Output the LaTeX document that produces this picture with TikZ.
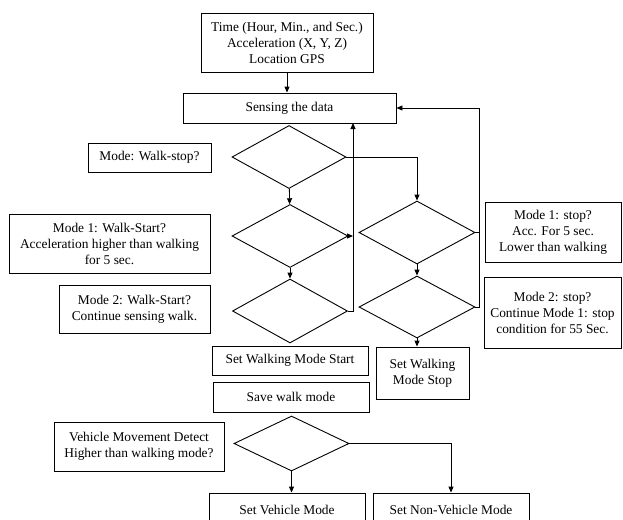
\documentclass[tikz,border=0pt]{standalone}
\usepackage{fontspec}
\setmainfont{Liberation Serif}
\usepackage{tikz}
\usetikzlibrary{positioning,arrows.meta,shapes.geometric}

\begin{document}
\begin{tikzpicture}[x=1pt, y=-1pt, line width=0.9pt,
  every node/.style={font=\fontsize{13.4}{16}\selectfont},
  box/.style={draw, rectangle, align=center, inner sep=0pt},
  dec/.style={draw, diamond, inner sep=0pt},
  arr/.style={-{Triangle[length=6pt,width=5pt]}}]
  %----- page frame -----
  \useasboundingbox (0,0) rectangle (623,519);

  %----- input and sensing -----
  \node[box, minimum width=172, minimum height=59] (input) at (287,42.5)
    {Time (Hour, Min., and Sec.)\\Acceleration (X, Y, Z)\\Location GPS};
  \node[box, minimum width=213, minimum height=30] (sense) at (289.5,108) {Sensing the data};

  %----- walk start column -----
  \node[dec, minimum width=114, minimum height=63] (walkstop) at (289,157) {};
  \node[dec, minimum width=116, minimum height=63] (start1) at (290,236) {};
  \node[dec, minimum width=115, minimum height=64] (start2) at (290,311) {};
  \node[box, minimum width=123, minimum height=29] (qstop) at (149.5,157.5) {Mode: Walk-stop?};
  \node[box, minimum width=201, minimum height=59] (qstart1) at (109.5,243.5)
    {Mode 1: Walk-Start?\\Acceleration higher than walking\\for 5 sec.};
  \node[box, minimum width=151, minimum height=48] (qstart2) at (134.5,309)
    {Mode 2: Walk-Start?\\Continue sensing walk.};
  \node[box, minimum width=156, minimum height=29] (setstart) at (290,360.5) {Set Walking Mode Start};
  \node[box, minimum width=156, minimum height=30] (save) at (291,397) {Save walk mode};

  %----- walk stop column -----
  \node[dec, minimum width=116, minimum height=63] (stop1) at (417,232.5) {};
  \node[dec, minimum width=116, minimum height=62] (stop2) at (417,307) {};
  \node[box, minimum width=136, minimum height=60] (qstop1) at (553,232)
    {Mode 1: stop?\\Acc. For 5 sec.\\Lower than walking};
  \node[box, minimum width=137, minimum height=71] (qstop2) at (552.5,312.5)
    {Mode 2: stop?\\Continue Mode 1: stop\\condition for 55 Sec.};
  \node[box, minimum width=93, minimum height=52] (setstop) at (422.5,373) {Set Walking\\Mode Stop};

  %----- vehicle detection -----
  \node[dec, minimum width=115, minimum height=55] (vehicle) at (291.5,443.5) {};
  \node[box, minimum width=170, minimum height=49] (qvehicle) at (139,446.5)
    {Vehicle Movement Detect\\Higher than walking mode?};
  \node[box, minimum width=156, minimum height=34] (setveh) at (287,510) {Set Vehicle Mode};
  \node[box, minimum width=156, minimum height=34] (setnonveh) at (451,510) {Set Non-Vehicle Mode};

  %----- return lines -----
  \coordinate (back) at (353,123);

  %----- connectors -----
  \draw[arr] (input.south) -- (input.south |- sense.north);
  \draw[arr] (walkstop) -- (start1);
  \draw[arr] (start1) -- (start2);
  \draw[arr] (walkstop.east) -| (stop1.north);
  \draw[arr] (stop1) -- (stop2);
  \draw[arr] (stop2.south) -- (stop2.south |- setstop.north);
  \draw[arr] (start2.east) -| (back);
  \draw[arr] (start1.east) -- (start1.east -| back);
  \draw (stop1.east) -- ++(4,0);
  \draw[arr] (stop2.east) -- ++(4,0) |- (sense.east);
  \draw[arr] (vehicle) -- (vehicle |- setveh.north);
  \draw[arr] (vehicle.east) -| (setnonveh.north);
\end{tikzpicture}
\end{document}
